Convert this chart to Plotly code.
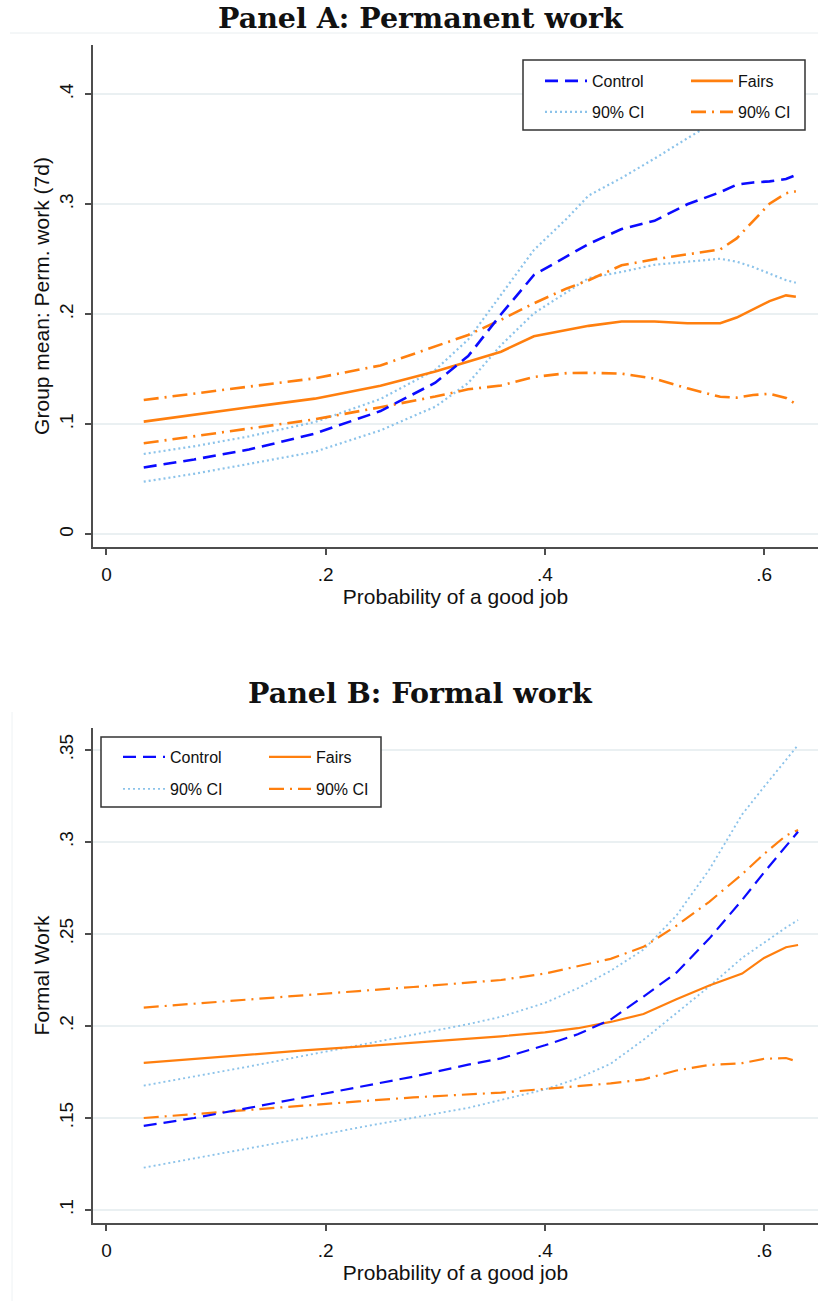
import plotly.graph_objects as go

W, H = 818, 1301

# ---------------- Panel A: permanent work ----------------
prob_a = [0.034, 0.08, 0.13, 0.19, 0.25, 0.30, 0.33, 0.36, 0.39, 0.42,
          0.44, 0.47, 0.50, 0.53, 0.56, 0.575, 0.59, 0.605, 0.62, 0.629]
control_a = [0.0608, 0.0680, 0.0770, 0.0915, 0.1120, 0.1378, 0.1620, 0.2000, 0.2357, 0.2530,
             0.2640, 0.2775, 0.2850, 0.3000, 0.3110, 0.3178, 0.3198, 0.3208, 0.3230, 0.3266]
control_a_hi = [0.0730, 0.0800, 0.0890, 0.1020, 0.1230, 0.1495, 0.1770, 0.2175, 0.2585, 0.2870,
                0.3080, 0.3240, 0.3415, 0.3600, 0.3780, 0.3870, 0.3960, 0.4050, 0.4130, 0.4170]
control_a_lo = [0.0478, 0.0550, 0.0640, 0.0750, 0.0945, 0.1160, 0.1375, 0.1720, 0.2009, 0.2200,
                0.2330, 0.2385, 0.2450, 0.2478, 0.2505, 0.2478, 0.2430, 0.2370, 0.2310, 0.2287]
fairs_a = [0.1024, 0.1090, 0.1155, 0.1233, 0.1350, 0.1480, 0.1570, 0.1660, 0.1800, 0.1860,
           0.1895, 0.1935, 0.1935, 0.1918, 0.1918, 0.1970, 0.2045, 0.2120, 0.2172, 0.2160]
fairs_a_hi = [0.1221, 0.1280, 0.1342, 0.1418, 0.1535, 0.1705, 0.1812, 0.1950, 0.2100, 0.2235,
              0.2310, 0.2445, 0.2500, 0.2545, 0.2590, 0.2690, 0.2845, 0.3005, 0.3100, 0.3118]
fairs_a_lo = [0.0827, 0.0890, 0.0960, 0.1045, 0.1155, 0.1252, 0.1318, 0.1352, 0.1430, 0.1465,
              0.1468, 0.1460, 0.1415, 0.1327, 0.1250, 0.1242, 0.1266, 0.1278, 0.1240, 0.1185]

# ---------------- Panel B: formal work ----------------
prob_b = [0.034, 0.08, 0.13, 0.18, 0.23, 0.28, 0.33, 0.36, 0.40, 0.43,
          0.46, 0.49, 0.52, 0.55, 0.58, 0.60, 0.62, 0.631]
control_b = [0.1457, 0.1500, 0.1555, 0.1610, 0.1668, 0.1725, 0.1790, 0.1824, 0.1895, 0.1955,
             0.2035, 0.2160, 0.2290, 0.2475, 0.2685, 0.2835, 0.2980, 0.3056]
control_b_hi = [0.1676, 0.1725, 0.1780, 0.1838, 0.1895, 0.1953, 0.2010, 0.2050, 0.2125, 0.2205,
                0.2300, 0.2415, 0.2600, 0.2850, 0.3150, 0.3300, 0.3445, 0.3527]
control_b_lo = [0.1230, 0.1280, 0.1335, 0.1390, 0.1448, 0.1500, 0.1555, 0.1598, 0.1655, 0.1715,
                0.1795, 0.1925, 0.2070, 0.2215, 0.2370, 0.2455, 0.2535, 0.2576]
fairs_b = [0.1800, 0.1822, 0.1845, 0.1867, 0.1888, 0.1908, 0.1928, 0.1944, 0.1965, 0.1988,
           0.2022, 0.2065, 0.2145, 0.2220, 0.2285, 0.2370, 0.2428, 0.2440]
fairs_b_hi = [0.2100, 0.2122, 0.2145, 0.2168, 0.2190, 0.2212, 0.2235, 0.2250, 0.2285, 0.2325,
              0.2365, 0.2430, 0.2545, 0.2675, 0.2825, 0.2935, 0.3035, 0.3065]
fairs_b_lo = [0.1500, 0.1522, 0.1545, 0.1568, 0.1590, 0.1612, 0.1628, 0.1638, 0.1658, 0.1675,
              0.1688, 0.1710, 0.1758, 0.1788, 0.1798, 0.1822, 0.1826, 0.1805]

x_ticks = [0, 0.2, 0.4, 0.6]
x_ticktext = ["0", ".2", ".4", ".6"]
ya_ticks = [0, 0.1, 0.2, 0.3, 0.4]
ya_ticktext = ["0", ".1", ".2", ".3", ".4"]
yb_ticks = [0.1, 0.15, 0.2, 0.25, 0.3, 0.35]
yb_ticktext = [".1", ".15", ".2", ".25", ".3", ".35"]

BLUE = "#0b0bff"
ORANGE = "#ff7f0e"
LIGHTBLUE = "#8cc3ea"
AXIS = "#4d4d4d"
GRID = "#eaf0f2"
SANS = "Liberation Sans, Arial, sans-serif"


def px_x(v):
    return v / W


def px_y(v):
    return 1 - v / H


fig = go.Figure()


def add_panel(xaxis, yaxis, x, ctrl, ctrl_hi, ctrl_lo, fr, fr_hi, fr_lo, legends, lw):
    ci_blue = dict(color=LIGHTBLUE, width=lw * 0.85, dash="2px,3px")
    ci_orange = dict(color=ORANGE, width=lw, dash="15px,6px,2px,6px")
    for i, yv in enumerate([ctrl_hi, ctrl_lo]):
        fig.add_trace(go.Scatter(x=x, y=yv, mode="lines", line=ci_blue, name="90% CI",
                                 xaxis=xaxis, yaxis=yaxis, legend=legends[2],
                                 showlegend=(i == 0), hoverinfo="skip"))
    for i, yv in enumerate([fr_hi, fr_lo]):
        fig.add_trace(go.Scatter(x=x, y=yv, mode="lines", line=ci_orange, name="90% CI",
                                 xaxis=xaxis, yaxis=yaxis, legend=legends[3],
                                 showlegend=(i == 0), hoverinfo="skip"))
    fig.add_trace(go.Scatter(x=x, y=fr, mode="lines", name="Fairs",
                             line=dict(color=ORANGE, width=lw),
                             xaxis=xaxis, yaxis=yaxis, legend=legends[1], showlegend=True))
    fig.add_trace(go.Scatter(x=x, y=ctrl, mode="lines", name="Control",
                             line=dict(color=BLUE, width=lw, dash="13px,7px"),
                             xaxis=xaxis, yaxis=yaxis, legend=legends[0], showlegend=True))


add_panel("x", "y", prob_a, control_a, control_a_hi, control_a_lo,
          fairs_a, fairs_a_hi, fairs_a_lo, ["legend", "legend2", "legend3", "legend4"], 2.6)
add_panel("x2", "y2", prob_b, control_b, control_b_hi, control_b_lo,
          fairs_b, fairs_b_hi, fairs_b_lo, ["legend5", "legend6", "legend7", "legend8"], 2.2)

x_range = [-0.0123, 0.6492]
title_font = dict(family=SANS, size=21, color="#111")
common_x = dict(range=x_range, domain=[px_x(93), 1.0], tickvals=x_ticks, ticktext=x_ticktext,
                showline=True, linecolor=AXIS, linewidth=1.5, ticks="outside", ticklen=6,
                tickwidth=1.5, tickcolor=AXIS, showgrid=False, zeroline=False,
                tickfont=dict(family=SANS, size=19, color="#111"), ticklabelstandoff=3)
common_y = dict(showline=True, linecolor=AXIS, linewidth=1.5, ticks="outside", ticklen=6,
                tickwidth=1.5, tickcolor=AXIS, showgrid=True, gridcolor=GRID, gridwidth=1.5,
                zeroline=False, tickangle=-90,
                tickfont=dict(family=SANS, size=19, color="#111"), ticklabelstandoff=5)

fig.update_layout(
    width=W, height=H, margin=dict(l=0, r=0, t=0, b=0),
    paper_bgcolor="white", plot_bgcolor="white", showlegend=True,
    xaxis=dict(common_x, anchor="y",
               title=dict(text="Probability of a good job", standoff=0, font=title_font)),
    yaxis=dict(common_y, anchor="x", domain=[px_y(547), px_y(45)], range=[-0.01155, 0.4448],
               tickvals=ya_ticks, ticktext=ya_ticktext,
               title=dict(text="Group mean: Perm. work (7d)", standoff=0, font=title_font)),
    xaxis2=dict(common_x, anchor="y2",
                title=dict(text="Probability of a good job", standoff=0, font=title_font)),
    yaxis2=dict(common_y, anchor="x2", domain=[px_y(1223), px_y(728)], range=[0.09293, 0.36196],
                tickvals=yb_ticks, ticktext=yb_ticktext,
                title=dict(text="Formal Work", standoff=0, font=title_font)),
)

# One legend per entry so that the entries sit on a 2 x 2 grid inside each box
legend_pos = {
    "legend": (540, 81), "legend2": (686, 81), "legend3": (540, 112), "legend4": (686, 112),
    "legend5": (118, 757), "legend6": (264, 757), "legend7": (118, 789), "legend8": (264, 789),
}
for key, (lx, ly) in legend_pos.items():
    fig.update_layout({key: dict(x=px_x(lx), y=px_y(ly), xanchor="left", yanchor="middle",
                                 bgcolor="rgba(0,0,0,0)", borderwidth=0, itemwidth=42,
                                 visible=True,
                                 font=dict(family=SANS, size=16, color="#111"))})

# Legend frames
for (x0, y0, x1, y1) in [(523, 60, 805, 130), (101, 737, 381, 807)]:
    fig.add_shape(type="rect", xref="paper", yref="paper",
                  x0=px_x(x0), x1=px_x(x1), y0=px_y(y1), y1=px_y(y0),
                  fillcolor="white", line=dict(color="#333", width=1.5), layer="above")

# Faint graph-region edges
fig.add_shape(type="line", xref="paper", yref="paper", x0=px_x(10), x1=1, y0=px_y(33), y1=px_y(33),
              line=dict(color="#e9eef0", width=1))
fig.add_shape(type="line", xref="paper", yref="paper", x0=px_x(12), x1=px_x(12), y0=0, y1=px_y(712),
              line=dict(color="#eef2f4", width=1))

for text, cy in [("Panel A: Permanent work", 18), ("Panel B: Formal work", 693)]:
    fig.add_annotation(text=f"<b>{text}</b>", xref="paper", yref="paper",
                       x=px_x(421), y=px_y(cy), xanchor="center", yanchor="middle",
                       showarrow=False, font=dict(family="DejaVu Serif, serif", size=28.5, color="#111"))

fig.write_html("out.html")
